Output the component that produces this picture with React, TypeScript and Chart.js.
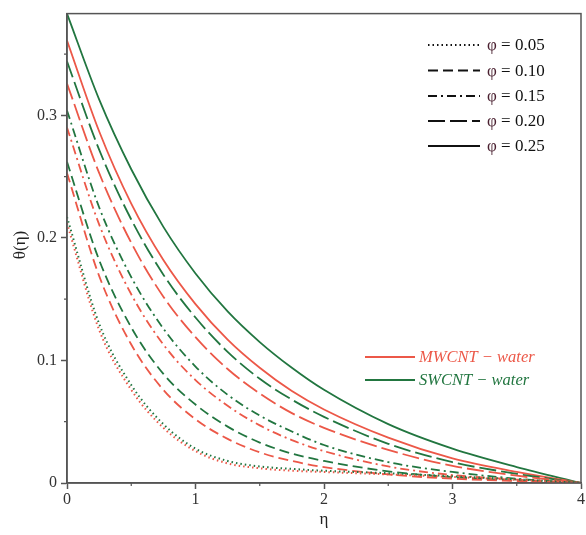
import { useEffect, useRef } from 'react';
import { Chart, registerables } from 'chart.js';

Chart.register(...registerables);

// Similarity variable η
const eta = [0, 0.25, 0.5, 0.75, 1, 1.25, 1.5, 1.75, 2, 2.5, 3, 3.5, 4];

// θ(η) profiles, SWCNT–water and MWCNT–water, for each volume fraction φ
const swPhi25 = [0.383, 0.313, 0.256, 0.209, 0.171, 0.14, 0.115, 0.094, 0.076, 0.048, 0.028, 0.013, 0];
const mwPhi25 = [0.361, 0.287, 0.228, 0.182, 0.146, 0.117, 0.094, 0.075, 0.06, 0.037, 0.02, 0.009, 0];
const swPhi20 = [0.344, 0.272, 0.215, 0.17, 0.135, 0.107, 0.085, 0.068, 0.054, 0.032, 0.017, 0.0075, 0];
const mwPhi20 = [0.326, 0.253, 0.196, 0.152, 0.119, 0.093, 0.073, 0.057, 0.045, 0.027, 0.014, 0.006, 0];
const swPhi15 = [0.304, 0.225, 0.168, 0.126, 0.095, 0.072, 0.055, 0.042, 0.031, 0.017, 0.009, 0.0035, 0];
const mwPhi15 = [0.29, 0.211, 0.154, 0.113, 0.084, 0.063, 0.047, 0.035, 0.026, 0.0135, 0.0065, 0.0028, 0];
const swPhi10 = [0.262, 0.182, 0.127, 0.089, 0.064, 0.046, 0.033, 0.024, 0.018, 0.0095, 0.0048, 0.002, 0];
const mwPhi10 = [0.253, 0.169, 0.113, 0.076, 0.052, 0.036, 0.025, 0.018, 0.013, 0.007, 0.0035, 0.0016, 0];
const swPhi05 = [0.217, 0.13, 0.08, 0.048, 0.028, 0.018, 0.0135, 0.0115, 0.01, 0.008, 0.0055, 0.003, 0];
const mwPhi05 = [0.212, 0.125, 0.076, 0.045, 0.026, 0.016, 0.012, 0.01, 0.009, 0.007, 0.005, 0.0025, 0];

const phiValues = ['0.05', '0.10', '0.15', '0.20', '0.25'];
const fluidLabels = ['MWCNT − water', 'SWCNT − water'];
const yMinorTicks = [0.05, 0.15, 0.25, 0.35];
const xMinorTicks = [0.5, 1.5, 2.5, 3.5];

const RED = 'rgb(236, 88, 72)';
const GREEN = 'rgb(34, 118, 64)';
const AXIS = '#555';
const SERIF = "'Liberation Serif', 'Times New Roman', serif";

const dashes: number[][] = [
  [1.5, 3],
  [10, 5],
  [9, 4, 2, 4],
  [17, 5],
  [],
];

const seriesByPhi = [
  [mwPhi05, swPhi05],
  [mwPhi10, swPhi10],
  [mwPhi15, swPhi15],
  [mwPhi20, swPhi20],
  [mwPhi25, swPhi25],
];

const decorPlugin = {
  id: 'decor',
  afterDraw(chart: any) {
    const { ctx, chartArea: a, scales } = chart;
    const xs = scales.x;
    const ys = scales.y;
    ctx.save();
    // frame
    ctx.strokeStyle = AXIS;
    ctx.lineWidth = 1.5;
    ctx.strokeRect(a.left, a.top, a.right - a.left, a.bottom - a.top);
    // minor ticks
    ctx.lineWidth = 1.2;
    ctx.beginPath();
    yMinorTicks.forEach((v) => {
      const py = ys.getPixelForValue(v);
      ctx.moveTo(a.left - 3, py);
      ctx.lineTo(a.left, py);
    });
    xMinorTicks.forEach((v) => {
      const px = xs.getPixelForValue(v);
      ctx.moveTo(px, a.bottom);
      ctx.lineTo(px, a.bottom + 3);
    });
    ctx.stroke();

    // axis titles
    ctx.fillStyle = '#222';
    ctx.font = `17px ${SERIF}`;
    ctx.textAlign = 'center';
    ctx.textBaseline = 'middle';
    ctx.fillText('η', (a.left + a.right) / 2, 520);
    ctx.save();
    ctx.translate(21, 245);
    ctx.rotate(-Math.PI / 2);
    ctx.fillText('θ(η)', 0, 0);
    ctx.restore();

    // line-style legend
    const rowY = [45, 70.5, 96, 121, 146];
    ctx.textAlign = 'left';
    phiValues.forEach((val, i) => {
      ctx.strokeStyle = '#111';
      ctx.lineWidth = 2;
      ctx.setLineDash(dashes[i]);
      ctx.beginPath();
      ctx.moveTo(428, rowY[i]);
      ctx.lineTo(480, rowY[i]);
      ctx.stroke();
      ctx.setLineDash([]);
      ctx.font = `17px ${SERIF}`;
      ctx.fillStyle = '#4a2030';
      ctx.fillText('φ', 487, rowY[i] + 1);
      const w = ctx.measureText('φ').width;
      ctx.fillStyle = '#111';
      ctx.fillText(` = ${val}`, 487 + w, rowY[i] + 1);
    });

    // fluid legend
    const fluidY = [357, 380];
    const fluidColors = [RED, GREEN];
    fluidLabels.forEach((label, i) => {
      ctx.strokeStyle = fluidColors[i];
      ctx.lineWidth = 1.8;
      ctx.beginPath();
      ctx.moveTo(365, fluidY[i]);
      ctx.lineTo(415, fluidY[i]);
      ctx.stroke();
      ctx.fillStyle = fluidColors[i];
      ctx.font = `italic 16.5px ${SERIF}`;
      ctx.fillText(label, 419, fluidY[i] + 1);
    });
    ctx.restore();
  },
};

export default function App() {
  const canvasRef = useRef<HTMLCanvasElement | null>(null);

  useEffect(() => {
    document.body.style.margin = '0';
    const canvas = canvasRef.current;
    if (!canvas) return;

    const datasets: any[] = [];
    seriesByPhi.forEach((pair, i) => {
      pair.forEach((values, j) => {
        datasets.push({
          label: `${j === 0 ? 'MWCNT' : 'SWCNT'} φ = ${phiValues[i]}`,
          data: eta.map((x, k) => ({ x, y: values[k] })),
          borderColor: j === 0 ? RED : GREEN,
          borderWidth: i === 0 ? 2 : 1.8,
          borderDash: dashes[i],
          pointRadius: 0,
          fill: false,
          cubicInterpolationMode: 'monotone',
        });
      });
    });

    const chart = new Chart(canvas, {
      type: 'line',
      data: { datasets },
      options: {
        responsive: false,
        animation: false,
        layout: { padding: { left: 0, right: 4, top: 4, bottom: 0 } },
        plugins: { legend: { display: false }, tooltip: { enabled: false } },
        scales: {
          x: {
            type: 'linear',
            min: 0,
            max: 4,
            ticks: {
              stepSize: 1,
              color: '#333',
              font: { family: SERIF, size: 16 },
              padding: 1,
              maxRotation: 0,
            },
            grid: { drawOnChartArea: false, tickLength: 6, tickColor: AXIS, tickWidth: 1.5 },
            border: { color: AXIS, width: 1.5 },
            afterFit: (s: any) => {
              s.height = 52;
            },
          },
          y: {
            type: 'linear',
            min: 0,
            max: 0.383,
            ticks: {
              stepSize: 0.1,
              color: '#333',
              font: { family: SERIF, size: 16 },
              padding: 4,
              callback: (v: any) => {
                const r = Math.round(Number(v) * 10);
                if (Math.abs(Number(v) * 10 - r) > 1e-6) return null;
                return r === 0 ? '0' : (r / 10).toFixed(1);
              },
            },
            grid: { drawOnChartArea: false, tickLength: 6, tickColor: AXIS, tickWidth: 1.5 },
            border: { color: AXIS, width: 1.5 },
            afterFit: (s: any) => {
              s.width = 67;
            },
          },
        },
      },
      plugins: [decorPlugin],
    });

    return () => chart.destroy();
  }, []);

  return (
    <div style={{ width: 586, height: 535, background: '#fff' }}>
      <canvas ref={canvasRef} width={586} height={535} />
    </div>
  );
}
